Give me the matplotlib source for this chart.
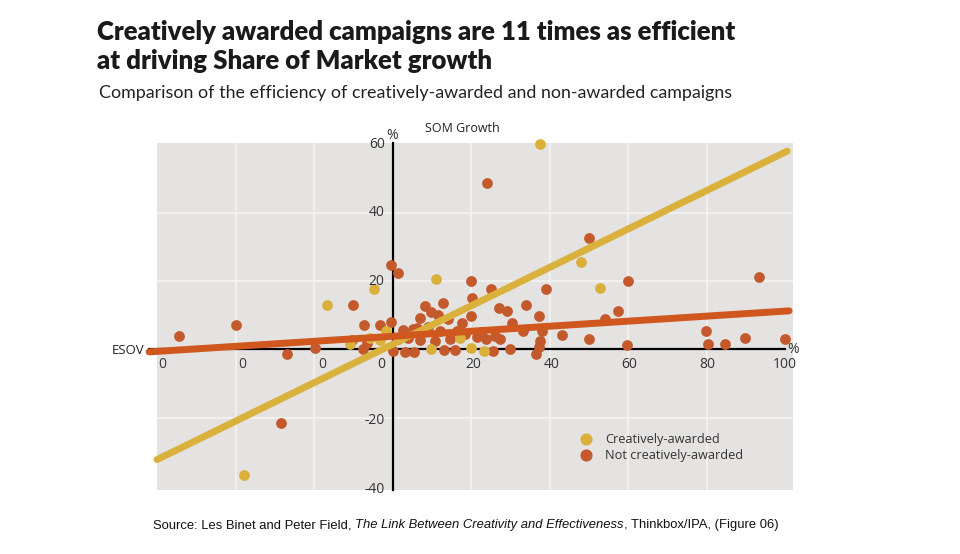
import matplotlib
matplotlib.use("Agg")
import matplotlib.pyplot as plt

# creatively-awarded campaigns (ESOV %, SOM growth %)
awarded_x = [37.5, 47.9, 52.8, 11.0, -4.7, -16.8, -1.7, -10.9, -5.8, -3.2, 9.9, 17.1, 20.1, 23.3, -37.8]
awarded_y = [60.0, 25.7, 18.1, 20.6, 17.6, 12.9, 5.4, 1.6, 3.4, 2.9, 0.0, 3.4, 0.3, -0.5, -36.6]

# not creatively-awarded campaigns
other_x = [-54.4, -39.9, -28.5, -26.8, -19.8, -10.0, -10.4, -7.3, -6.6, -7.5, -3.1, -0.3, -0.3, 1.4,
           0.2, 2.7, 3.1, 5.3, 5.4, 6.1, 7.0, 7.0, 8.2, 9.9, 10.8, 11.6, 12.9, 13.1, 14.2, 14.6,
           15.9, 17.6, 20.0, 20.2, 20.0, 21.4, 23.9, 24.1, 25.0, 25.5, 27.1, 27.3, 29.2, 29.9,
           30.3, 33.1, 34.1, 37.3, 37.5, 37.3, 36.5, 38.0, 39.2, 43.1, 50.1, 50.1, 54.1, 57.3,
           59.9, 59.6, 79.8, 80.4, 84.7, 89.8, 93.4, 99.9, 18.5, 22.5, 26.0, 4.0, 1.5, 12.0, 16.5, 9.0]
other_y = [3.9, 7.1, -21.6, -1.3, 0.3, 12.9, 2.9, 7.1, 1.9, 0.0, 7.1, 8.1, 24.8, 22.5,
           -0.5, 5.6, -0.6, 5.9, -0.6, 6.2, 9.3, 2.9, 12.7, 11.1, 2.4, 10.0, 13.7, -0.2, 8.8, 3.2,
           -0.2, 7.8, 20.1, 15.0, 9.8, 3.6, 3.2, 48.8, 17.8, -0.3, 12.2, 3.2, 11.3, 0.2,
           7.8, 5.4, 12.9, 9.8, 2.4, 0.7, -1.2, 5.4, 17.6, 4.1, 32.5, 3.1, 8.8, 11.3,
           19.9, 1.2, 5.4, 1.6, 1.6, 3.4, 21.2, 3.1, 4.5, 5.0, 4.0, 3.5, 3.0, 5.5, 5.5, 6.5]

# trend line end points
awarded_fit_x = [-60, 100.5]
awarded_fit_y = [-32.2, 58.0]
other_fit_x = [-62, 101]
other_fit_y = [-0.7, 11.3]

xtick_pos = [-58.6, -38.2, -17.8, -3.0, 20.5, 40.6, 60.2, 80.2, 100]
xtick_txt = ["0", "0", "0", "0", "20", "40", "60", "80", "100"]
ytick_pos = [60, 40, 20, -20.8, -41]
ytick_txt = ["60", "40", "20", "-20", "-40"]

yellow = "#DBB03A"
orange = "#C4592B"
yellow_line = "#D9B13C"
orange_line = "#D0581F"

fig = plt.figure(figsize=(9.6, 5.54), dpi=100)
ax = fig.add_axes([157 / 960, 1 - 489.7 / 554, 636 / 960, 346.4 / 554])
ax.set_xlim(-60, 102)
ax.set_ylim(-41, 60.3)
ax.set_facecolor("#E4E3E2")
for s in ax.spines.values():
    s.set_visible(False)
ax.set_xticks([-40, -20, 20, 40, 60, 80])
ax.set_yticks([-20, 20, 40])
ax.tick_params(length=0, labelbottom=False, labelleft=False)
ax.grid(True, color="#F4F4F3", linewidth=1.1)
ax.set_axisbelow(True)

# axes through the origin
ax.plot([0, 0], [-41, 60.3], color="black", lw=1.6, zorder=2, clip_on=False)
ax.plot([-62, 100], [0, 0], color="black", lw=1.6, zorder=2, clip_on=False)

ax.scatter(other_x, other_y, s=60, color=orange, zorder=3, linewidths=0, clip_on=False)
ax.scatter(awarded_x, awarded_y, s=60, color=yellow, zorder=3, linewidths=0, clip_on=False)

ax.plot(awarded_fit_x, awarded_fit_y, color=yellow_line, lw=5, solid_capstyle="round", zorder=4, clip_on=False)
ax.plot(other_fit_x, other_fit_y, color=orange_line, lw=5, solid_capstyle="round", zorder=4, clip_on=False)

tick_font = dict(family="Open Sans", fontsize=10, color="#333333")
for p, t in zip(xtick_pos, xtick_txt):
    ax.text(p, -4.3, t, ha="center", va="center", **tick_font)
for p, t in zip(ytick_pos, ytick_txt):
    ax.text(-2, p, t, ha="right", va="center", clip_on=False, **tick_font)

ax.text(0, 62.6, "%", ha="center", va="center", **tick_font)
ax.text(102, 0, "%", ha="center", va="center", **tick_font)
ax.text(8.2, 64.7, "SOM Growth", ha="left", va="center", family="Open Sans", fontsize=9, color="#222222")
ax.text(-63.3, -0.2, "ESOV", ha="right", va="center", family="Open Sans", fontsize=9.5, color="#222222")

ax.scatter([], [], s=60, color=yellow, label="Creatively-awarded")
ax.scatter([], [], s=60, color=orange, label="Not creatively-awarded")
h, l = ax.get_legend_handles_labels()
ax.legend(h, l, loc="upper left", bbox_to_anchor=(562 / 960, 1 - 421 / 554),
          bbox_transform=fig.transFigure, frameon=False, handletextpad=0.5,
          labelspacing=0.25, prop={"family": "Open Sans", "size": 9.2}, labelcolor="#333333")

fig.text(97 / 960, 1 - 32 / 554, "Creatively awarded campaigns are 11 times as efficient",
         family="Lato", weight="heavy", fontsize=18.5, color="#1a1a1a", va="center")
fig.text(97 / 960, 1 - 61 / 554, "at driving Share of Market growth",
         family="Lato", weight="heavy", fontsize=18.5, color="#1a1a1a", va="center")
fig.text(99 / 960, 1 - 93 / 554, "Comparison of the efficiency of creatively-awarded and non-awarded campaigns",
         family="Lato", fontsize=12.9, color="#222222", va="center")

# source line with italic title, pieces placed one after another
r = fig.canvas.get_renderer()
x = 153
parts = [("Source: Les Binet and Peter Field, ", "normal"),
         ("The Link Between Creativity and Effectiveness", "italic"),
         (", Thinkbox/IPA, (Figure 06)", "normal")]
for txt, st in parts:
    t = fig.text(x / 960, 1 - 525 / 554, txt, family="Liberation Sans", style=st,
                 fontsize=9.4, color="#111111", va="center")
    x += t.get_window_extent(renderer=r).width

fig.savefig("out.png", dpi=100)
